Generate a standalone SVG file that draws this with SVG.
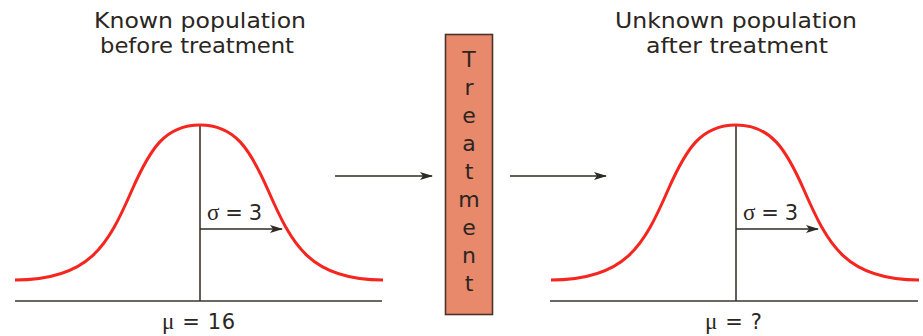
<svg xmlns="http://www.w3.org/2000/svg" width="923" height="336" viewBox="0 0 923 336">
<style>
.t{font-family:"DejaVu Sans","Liberation Sans",sans-serif;fill:#2b2622;font-size:22px;text-anchor:middle}
.s{font-family:"DejaVu Sans","Liberation Sans",sans-serif;fill:#2b2622;font-size:21px}
.g{font-family:"Liberation Serif",serif;font-size:23px}
.curve{fill:none;stroke:#f5251f;stroke-width:3}
.ax{stroke:#3a342e;stroke-width:1.6;fill:none}
.arr{stroke:#2f2a25;stroke-width:1.5;fill:none;marker-end:url(#ah)}
</style>
<defs>
<marker id="ah" markerWidth="13" markerHeight="8" refX="12" refY="4" orient="auto" markerUnits="userSpaceOnUse">
<path d="M0,0 L13,4 L0,8 L3,4 z" fill="#2f2a25"/>
</marker>
</defs>
<rect width="923" height="336" fill="#fff"/>
<g id="known">
<text class="t" x="200" y="28" textLength="212" lengthAdjust="spacingAndGlyphs">Known population</text>
<text class="t" x="197" y="53" textLength="194" lengthAdjust="spacingAndGlyphs">before treatment</text>
<line class="ax" x1="15" y1="301" x2="382" y2="301"/>
<line class="ax" x1="200" y1="125" x2="200" y2="301"/>
<path class="curve" d="M15,280 C90,280 108,245 132,190 C150,149 165,125 200,125 C235,125 250,149 268,190 C292,245 310,280 383,280"/>
<line class="arr" x1="200" y1="229" x2="282" y2="229"/>
<text class="s" x="207" y="220" textLength="55" lengthAdjust="spacing"><tspan class="g">σ</tspan> = 3</text>
<text class="s" x="162" y="329" textLength="73" lengthAdjust="spacing"><tspan class="g">μ</tspan> = 16</text>
</g>
<g id="treatment">
<rect x="445.5" y="34.5" width="47" height="280" fill="#e8896b" stroke="#4a3328" stroke-width="1.6"/>
<text class="t" x="469" y="67">T</text>
<text class="t" x="469" y="95">r</text>
<text class="t" x="469" y="123">e</text>
<text class="t" x="469" y="151">a</text>
<text class="t" x="469" y="179">t</text>
<text class="t" x="469" y="207">m</text>
<text class="t" x="469" y="235">e</text>
<text class="t" x="469" y="263">n</text>
<text class="t" x="469" y="291">t</text>
</g>
<g id="unknown">
<text class="t" x="736" y="28" textLength="242" lengthAdjust="spacingAndGlyphs">Unknown population</text>
<text class="t" x="737" y="53" textLength="182" lengthAdjust="spacingAndGlyphs">after treatment</text>
<line class="ax" x1="550" y1="301" x2="918" y2="301"/>
<line class="ax" x1="736" y1="125" x2="736" y2="301"/>
<path class="curve" d="M551,280 C626,280 644,245 668,190 C686,149 701,125 736,125 C771,125 786,149 804,190 C828,245 846,280 919,280"/>
<line class="arr" x1="736" y1="229" x2="818" y2="229"/>
<text class="s" x="743" y="220" textLength="55" lengthAdjust="spacing"><tspan class="g">σ</tspan> = 3</text>
<text class="s" x="705" y="329" textLength="57" lengthAdjust="spacing"><tspan class="g">μ</tspan> = ?</text>
</g>
<g id="connectors">
<line class="arr" x1="335" y1="176" x2="432" y2="176"/>
<line class="arr" x1="510" y1="176" x2="606" y2="176"/>
</g>
</svg>
